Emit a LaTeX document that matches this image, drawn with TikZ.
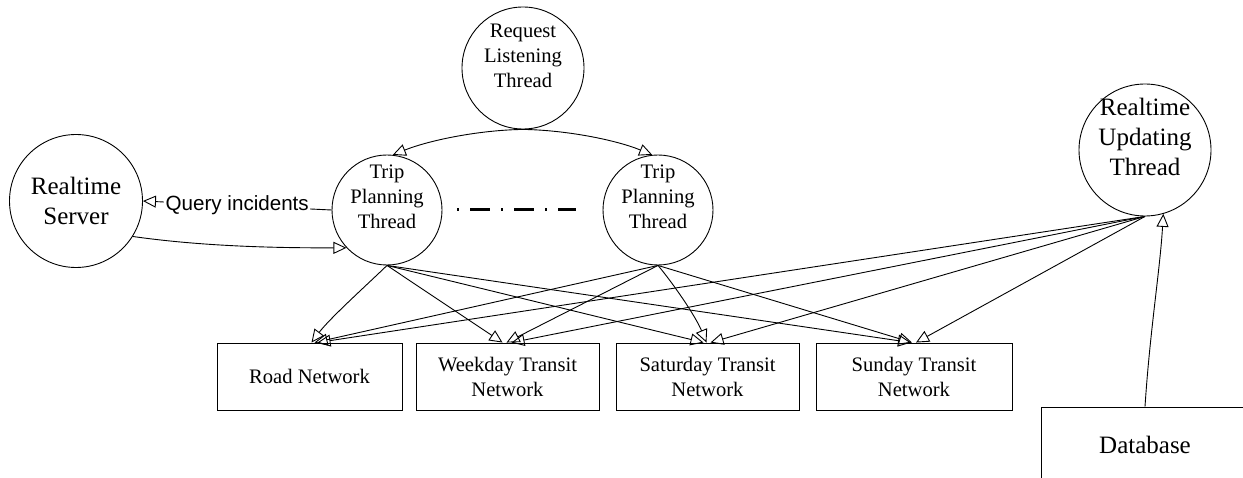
\documentclass[tikz,border=0pt]{standalone}
\usepackage{fontspec}
\setmainfont{Liberation Serif}
\newfontfamily\labelfont{Liberation Sans}
\usetikzlibrary{arrows.meta}
\begin{document}
\begin{tikzpicture}[x=1pt,y=-1pt,
  circ/.style={draw, circle, line width=0.9pt, inner sep=0pt},
  boxnode/.style={draw, rectangle, line width=0.9pt, inner sep=0pt, align=center, font=\fontsize{20.6}{25}\selectfont},
  txt/.style={align=center, inner sep=0pt},
  smalltxt/.style={txt, font=\fontsize{20.6}{25}\selectfont},
  bigtxt/.style={txt, font=\fontsize{25}{30}\selectfont},
  conn/.style={line width=0.9pt, -{Triangle[open, length=13pt, width=12pt]}},
  dashdot/.style={line width=3pt, dash pattern=on 2pt off 11pt on 20pt off 11pt},
  qlabel/.style={fill=white, inner sep=1.5pt, font=\labelfont\fontsize{20.6}{25}\selectfont},
]
\useasboundingbox (0,0) rectangle (1243,478);
\clip (0,0) rectangle (1243,478);

% circles
\node[circ, minimum size=122pt] (rlt) at (523,68) {};
\node[smalltxt] (rlttxt) at (523,56) {Request\\Listening\\Thread};

\node[circ, minimum size=110pt] (t1) at (387,210) {};
\node[smalltxt] (t1txt) at (387,197) {Trip\\Planning\\Thread};

\node[circ, minimum size=110pt] (t2) at (658,210) {};
\node[smalltxt] (t2txt) at (658,197) {Trip\\Planning\\Thread};

\node[circ, minimum size=133pt] (rs) at (76,201) {};
\node[bigtxt] (rstxt) at (76,201) {Realtime\\Server};

\node[circ, minimum size=132pt] (rut) at (1145,150) {};
\node[bigtxt] (ruttxt) at (1145,137) {Realtime\\Updating\\Thread};

% boxes
\node[boxnode, minimum width=185pt, minimum height=67pt] (road) at (309.5,376.5) {Road Network};
\node[boxnode, minimum width=183pt, minimum height=67pt] (wk) at (507.5,376.5) {Weekday Transit\\Network};
\node[boxnode, minimum width=183pt, minimum height=67pt] (sat) at (707.5,376.5) {Saturday Transit\\Network};
\node[boxnode, minimum width=196pt, minimum height=67pt] (sun) at (914,376.5) {Sunday Transit\\Network};
\node[boxnode, minimum width=208pt, minimum height=76pt, font=\fontsize{25}{30}\selectfont] (db) at (1145,445) {Database};

% request listening -> trip planning
\draw[conn] (rlt.south) .. controls (480,130) and (430,140) .. (t1.84);
\draw[conn] (rlt.south) .. controls (566,130) and (616,140) .. (t2.96);

% trip planning 1 <-> realtime server
\draw[conn] (t1.west) -- node[qlabel] (qlbl) {Query incidents} (rs.east);
\draw[conn] (rs.-32) .. controls (200,246) and (270,248) .. (t1.223);

% dash-dot between the two trip planning threads
\draw[dashdot] ([xshift=15pt]t1.east) -- ([xshift=-27pt]t2.west);

% trip planning 1 -> networks
\draw[conn] (t1.south) .. controls (370,282) and (330,318) .. ([xshift=2pt]road.north);
\draw[conn] (t1.south) -- ([xshift=-5pt]wk.north);
\draw[conn] (t1.south) -- ([xshift=-4pt]sat.north);
\draw[conn] (t1.south) -- ([xshift=-3pt]sun.north);

% trip planning 2 -> networks
\draw[conn] (t2.south) -- ([xshift=5pt]road.north);
\draw[conn] (t2.south) -- ([xshift=-1pt]wk.north);
\draw[conn] (t2.south) .. controls (672,282) and (695,315) .. ([xshift=-1pt]sat.north);
\draw[conn] (t2.south) -- ([xshift=-2pt]sun.north);

% realtime updating -> networks
\draw[conn] (rut.south) -- ([xshift=8pt]road.north);
\draw[conn] (rut.south) -- ([xshift=4pt]wk.north);
\draw[conn] (rut.south) -- ([xshift=3pt]sat.north);
\draw[conn] (rut.south) -- ([xshift=2pt]sun.north);

% database -> realtime updating
\draw[conn] (db.north) .. controls (1150,330) and (1160,270) .. (rut.-74);
\end{tikzpicture}
\end{document}
